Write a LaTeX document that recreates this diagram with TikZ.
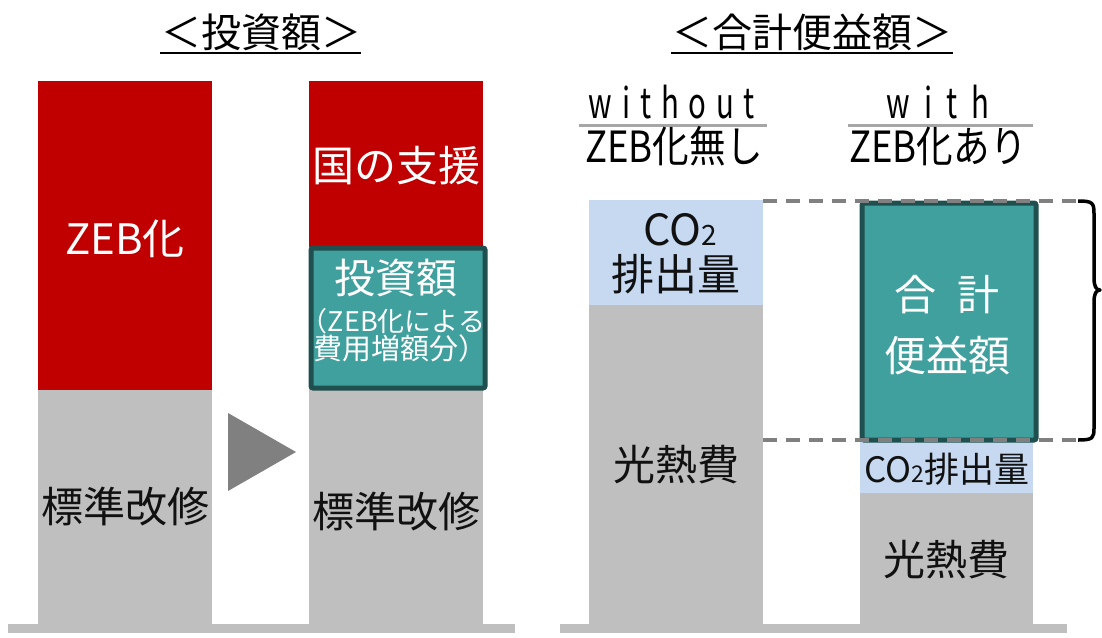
\documentclass[tikz,border=0pt]{standalone}
\usepackage{fontspec}
\setmainfont{Noto Sans CJK JP}
\usepackage{graphicx}
\definecolor{zred}{HTML}{C00000}
\definecolor{zgray}{HTML}{BFBFBF}
\definecolor{zblue}{HTML}{C6D9F1}
\definecolor{zteal}{HTML}{40A09E}
\definecolor{zdark}{HTML}{1F4F4E}
\definecolor{zmid}{HTML}{808080}
\definecolor{zline}{HTML}{A6A6A6}
\definecolor{ztext}{HTML}{111111}
\newcommand\fsz[1]{\fontsize{#1pt}{#1pt}\selectfont}
\tikzset{
  bar/.style={rectangle, inner sep=0pt, anchor=north west, minimum width=174pt},
  box/.style={rectangle, inner sep=0pt, anchor=north west, fill=zteal, draw=zdark, line width=5pt, rounded corners=2pt},
  lbl/.style={inner sep=0pt, anchor=center, text=ztext, font=\fsz{42}},
  wlbl/.style={lbl, text=white},
  title/.style={inner sep=0pt, anchor=base, font=\fsz{40}, text=black},
  dashline/.style={draw=zmid, line width=3.5pt, dash pattern=on 14pt off 9pt},
}
\begin{document}
\begin{tikzpicture}[x=1pt,y=-1pt]
\useasboundingbox (0,0) rectangle (1102,637);
% base lines
\fill[zgray] (8,624) rectangle (515,633);
\fill[zgray] (560,624) rectangle (1067,633);
% titles
\node[title] (t1) at (261,47) {＜投資額＞};
\draw[line width=2.5pt] (160,53) -- (361,53);
\node[title] (t2) at (812,47) {＜合計便益額＞};
\draw[line width=2.5pt] (671,53) -- (953,53);
% column headers
\node[inner sep=0pt, anchor=base, font=\fsz{42}] (h1) at (672,118) {\scalebox{0.7}[1]{w\kern14pt i\kern14pt t\kern14pt h\kern14pt o\kern14pt u\kern14pt t}};
\draw[zline, line width=3pt] (579,125) -- (767,125);
\node[inner sep=0pt, anchor=base, font=\fsz{43}] (s1) at (674,162) {\scalebox{0.85}[1]{ZEB化無し}};
\node[inner sep=0pt, anchor=base, font=\fsz{42}] (h2) at (938,118) {\scalebox{0.7}[1]{w\kern20pt i\kern20pt t\kern20pt h}};
\draw[zline, line width=3pt] (848,125) -- (1033,125);
\node[inner sep=0pt, anchor=base, font=\fsz{43}] (s2) at (938,162) {\scalebox{0.85}[1]{ZEB化あり}};
% bar 1
\node[bar, fill=zred, minimum height=309pt] (b1r) at (38,81) {};
\node[bar, fill=zgray, minimum height=234pt] (b1g) at (38,390) {};
\node[wlbl] (l1r) at (125,239) {ZEB化};
\node[lbl] (l1g) at (125,507) {標準改修};
% triangle
\fill[zmid] (228,413) -- (296,452) -- (228,491) -- cycle;
% bar 2
\node[bar, fill=zred, minimum height=166pt] (b2r) at (309,81) {};
\node[bar, fill=zgray, minimum height=236pt] (b2g) at (309,388) {};
\node[box, minimum width=174pt, minimum height=140pt] (b2t) at (308.5,245.5) {};
\node[wlbl] (l2r) at (396,166) {国の支援};
\node[wlbl, font=\fsz{41}] (l2t1) at (396,278) {投資額};
\node[wlbl, font=\fsz{27}] (l2t2) at (393,321) {（ZEB化による};
\node[wlbl, font=\fsz{29}] (l2t3) at (400,348) {費用増額分）};
\node[lbl] (l2g) at (396,512) {標準改修};
% bar 3
\node[bar, fill=zblue, minimum height=105pt] (b3b) at (589,200) {};
\node[bar, fill=zgray, minimum height=319pt] (b3g) at (589,305) {};
\node[lbl, font=\fsz{43}] (l3b1) at (680,230) {CO{\fsz{28}2}};
\node[lbl, font=\fsz{43}] (l3b2) at (676,274) {排出量};
\node[lbl] (l3g) at (676,465) {光熱費};
% bar 4
\node[bar, fill=zblue, minimum height=53pt, minimum width=173pt] (b4b) at (860,440) {};
\node[bar, fill=zgray, minimum height=131pt, minimum width=173pt] (b4g) at (860,493) {};
\node[box, minimum width=174pt, minimum height=237pt] (b4t) at (859.5,200.5) {};
\node[wlbl] (l4t1) at (947,295) {合\kern22pt 計};
\node[wlbl] (l4t2) at (947,356) {便益額};
\node[lbl, font=\fsz{35}] (l4b) at (947,469) {CO{\fsz{23}2}排出量};
\node[lbl] (l4g) at (946,560) {光熱費};
% dashed guide lines
\coordinate (dt) at (1078,201);
\coordinate (db) at (1078,440);
\draw[dashline] (b3b.north east |- dt) -- (dt);
\draw[dashline] (b3b.north east |- db) -- (db);
% brace
\draw[line width=3.5pt, line join=round] (dt) .. controls (1093,201) and (1094,203) .. (1094,214) -- (1094,278) .. controls (1094,286) and (1096,290) .. (1100,290) .. controls (1096,290) and (1094,294) .. (1094,302) -- (1094,428) .. controls (1094,438) and (1093,440) .. (db);
\end{tikzpicture}
\end{document}
